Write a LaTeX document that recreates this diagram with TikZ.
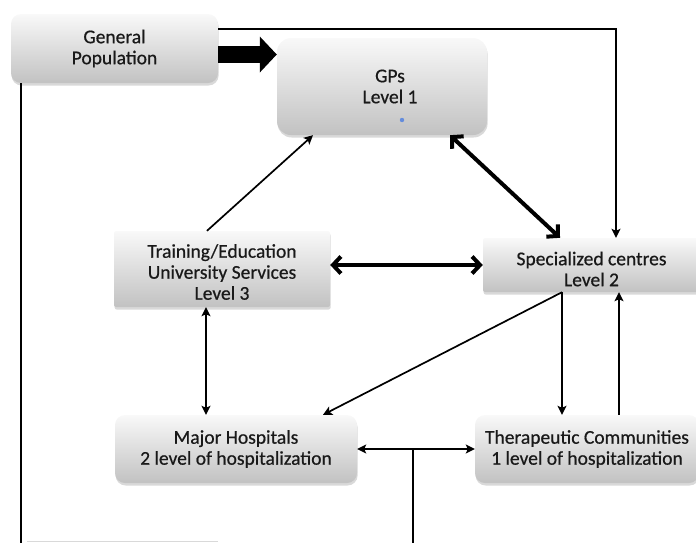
\documentclass[tikz,border=0pt]{standalone}
\usepackage{fontspec}
\setmainfont{Carlito}
\newfontfamily\boxfont{Carlito}[FakeBold=0.6]
\usetikzlibrary{arrows.meta,shadows,calc}
\definecolor{dotblue}{RGB}{100,140,220}
\begin{document}
\begin{tikzpicture}[x=1pt,y=-1pt,
  txt/.style={align=center,font=\boxfont\fontsize{19.5}{21}\selectfont,text=black!90},
  rbox/.style={draw=none,rounded corners=10pt,top color=gray!5,bottom color=gray!48,
    drop shadow={shadow xshift=0.6pt,shadow yshift=-2.5pt,opacity=0.3},
    inner sep=0pt,txt},
  sbox/.style={rbox,rounded corners=2pt},
  thinline/.style={line width=1.7pt},
  thinarrow/.style={thinline,-{Stealth[length=9pt,width=9pt,inset=2pt]}},
  thinboth/.style={thinline,{Stealth[length=9pt,width=9pt,inset=2pt]}-{Stealth[length=9pt,width=9pt,inset=2pt]}},
  thickboth/.style={line width=4pt,{Straight Barb[length=8pt,width=17pt]}-{Straight Barb[length=8pt,width=17pt]}},
  blockarrow/.style={line width=17pt,-{Triangle[length=17pt,width=35pt]}}
]
\useasboundingbox (0,0) rectangle (696,542);
\clip (0,0) rectangle (696,542);

% boxes
\node[rbox,minimum width=207pt,minimum height=69pt] (gp) at (114.5,48.5) {General\\Population};
\node[rbox,rounded corners=14pt,minimum width=210pt,minimum height=97pt,
  label={[txt,xshift=8pt]center:GPs\\Level 1}] (gps) at (382,86.5) {};
\node[sbox,minimum width=216pt,minimum height=76pt,
  label={[txt,yshift=-3pt]center:Training/Education\\University Services\\Level 3}] (train) at (222,269) {};
\node[sbox,minimum width=217pt,minimum height=54pt,
  label={[txt,yshift=-4pt]center:Specialized centres\\Level 2}] (spec) at (591.5,265) {};
\node[rbox,minimum width=242pt,minimum height=68pt] (major) at (236,449) {Major Hospitals\\2 level of hospitalization};
\node[rbox,minimum width=224pt,minimum height=68pt] (thera) at (587,449) {Therapeutic Communities\\1 level of hospitalization};

% blue dot
\fill[dotblue] (402,120) circle (2.2pt);

% faint line at bottom
\draw[gray!30,line width=1pt] (27,541.5) -- (218,541.5);

% connectors
\draw[blockarrow] ([yshift=-6pt]gp.east) -- ([yshift=-6pt]gp.east -| gps.west);
\draw[thinarrow] ([yshift=19.5pt]gp.east) -| ([xshift=24.5pt]spec.north);
\coordinate (botleft) at (21,545);
\draw[thinline] ([xshift=-93.5pt]gp.south) -- (botleft);

\draw[thickboth] ([xshift=68pt]gps.south) -- ([xshift=-31.5pt]spec.north);
\draw[thinarrow] ([xshift=-15pt]train.north) -- ([xshift=-69pt]gps.south);
\draw[thickboth] ([yshift=4pt]train.east) -- (spec.west);
\draw[thinboth] ([xshift=-16pt]train.south) -- ([xshift=-30pt]major.north);

\draw[thinarrow] ([xshift=-29.5pt]spec.south) -- ([xshift=87pt]major.north);
\draw[thinarrow] ([xshift=-29.5pt]spec.south) -- ([xshift=-25pt]thera.north);
\draw[thinarrow] ([xshift=32pt]thera.north) -- ([xshift=27.5pt]spec.south);

\draw[thinboth] (major.east) -- (thera.west);
\coordinate (junc) at (413,449);
\coordinate (junbot) at (413,545);
\draw[thinline] (junc) -- (junbot);
\end{tikzpicture}
\end{document}
